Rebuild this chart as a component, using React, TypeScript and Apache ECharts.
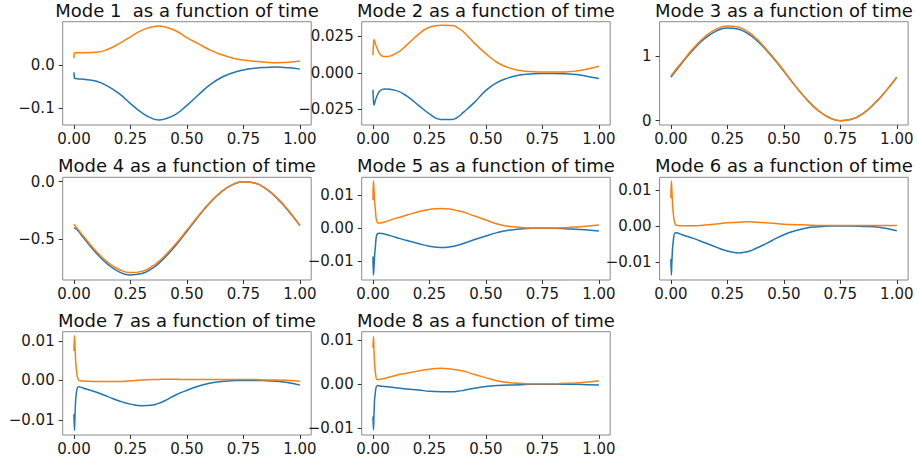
import React, { useEffect, useRef } from "react";
import * as echarts from "echarts";

const T = [0, 0.002, 0.005, 0.01, 0.02, 0.03, 0.05, 0.1, 0.15, 0.2, 0.25, 0.3, 0.35, 0.375, 0.4, 0.45, 0.5, 0.55, 0.6, 0.65, 0.7, 0.75, 0.8, 0.85, 0.9, 0.95, 1.0];

const MODE1_BLUE = [-0.016, -0.030, -0.031, -0.031, -0.032, -0.032, -0.033, -0.037, -0.049, -0.066, -0.089, -0.110, -0.1245, -0.127, -0.125, -0.114, -0.093, -0.069, -0.046, -0.029, -0.018, -0.011, -0.007, -0.005, -0.004, -0.006, -0.009];
const MODE1_ORANGE = [0.016, 0.029, 0.029, 0.029, 0.029, 0.029, 0.029, 0.030, 0.037, 0.050, 0.066, 0.081, 0.0895, 0.091, 0.0893, 0.080, 0.064, 0.050, 0.036, 0.025, 0.017, 0.012, 0.009, 0.007, 0.006, 0.007, 0.010];

const MODE2_BLUE = [-0.0116, -0.019, -0.022, -0.019, -0.015, -0.0125, -0.011, -0.012, -0.016, -0.022, -0.028, -0.0318, -0.0318, -0.0302, -0.027, -0.020, -0.012, -0.0065, -0.0035, -0.0015, -0.0008, -0.0005, -0.0005, -0.0007, -0.0012, -0.0025, -0.0039];
const MODE2_ORANGE = [0.012, 0.019, 0.0225, 0.020, 0.016, 0.013, 0.011, 0.013, 0.019, 0.026, 0.031, 0.0323, 0.0322, 0.0306, 0.028, 0.020, 0.013, 0.007, 0.0035, 0.0015, 0.0008, 0.0005, 0.0005, 0.0006, 0.0012, 0.0025, 0.0044];

const MODE3_BLUE = [0.67, 0.679, 0.693, 0.715, 0.76, 0.804, 0.893, 1.098, 1.266, 1.38, 1.429, 1.408, 1.319, 1.251, 1.17, 0.978, 0.76, 0.537, 0.332, 0.164, 0.05, 0.001, 0.022, 0.111, 0.26, 0.452, 0.67];
const MODE3_ORANGE = [0.69, 0.699, 0.712, 0.734, 0.78, 0.823, 0.908, 1.118, 1.293, 1.41, 1.46, 1.44, 1.347, 1.275, 1.19, 0.99, 0.77, 0.54, 0.333, 0.164, 0.05, 0.001, 0.022, 0.111, 0.26, 0.452, 0.67];

const MODE4_BLUE = [-0.40, -0.402, -0.405, -0.41, -0.43, -0.456, -0.506, -0.622, -0.717, -0.782, -0.809, -0.797, -0.747, -0.709, -0.663, -0.554, -0.43, -0.304, -0.188, -0.093, -0.028, 0.0, -0.012, -0.063, -0.147, -0.256, -0.38];
const MODE4_ORANGE = [-0.37, -0.375, -0.383, -0.395, -0.42, -0.444, -0.493, -0.607, -0.70, -0.762, -0.789, -0.778, -0.729, -0.691, -0.647, -0.54, -0.42, -0.297, -0.183, -0.09, -0.028, 0.0, -0.012, -0.061, -0.143, -0.25, -0.38];

const MODE5_BLUE = [-0.0085, -0.0141, -0.011, -0.006, -0.0016, -0.0015, -0.0017, -0.0027, -0.0037, -0.0046, -0.0054, -0.0058, -0.0055, -0.0051, -0.0046, -0.0034, -0.0023, -0.0013, -0.0006, -0.0002, 0, 0, 0, -0.0001, -0.0003, -0.0005, -0.0008];
const MODE5_ORANGE = [0.0085, 0.0143, 0.011, 0.006, 0.0017, 0.0016, 0.0019, 0.003, 0.004, 0.005, 0.0057, 0.006, 0.0057, 0.0053, 0.0049, 0.0037, 0.0025, 0.0013, 0.0006, 0.0003, 0.0001, 0.0001, 0.0001, 0.0002, 0.0004, 0.0007, 0.001];

const MODE6_BLUE = [-0.009, -0.0135, -0.009, -0.0045, -0.0018, -0.0019, -0.0024, -0.0034, -0.0046, -0.0058, -0.0069, -0.0074, -0.0069, -0.0062, -0.0055, -0.0039, -0.0024, -0.0013, -0.0005, -0.0002, 0, 0, 0, -0.0001, -0.0002, -0.0006, -0.0013];
const MODE6_ORANGE = [0.0077, 0.0125, 0.009, 0.004, 0.0004, 0.0002, 0.0001, 0.0001, 0.0003, 0.0006, 0.0009, 0.0011, 0.0012, 0.0011, 0.001, 0.0008, 0.0005, 0.0004, 0.0003, 0.0002, 0.0002, 0.0002, 0.0002, 0.0002, 0.0002, 0.0002, 0.0002];

const MODE7_BLUE = [-0.0085, -0.0126, -0.008, -0.0035, -0.0016, -0.0017, -0.0021, -0.003, -0.0041, -0.0052, -0.006, -0.0064, -0.0062, -0.0058, -0.0052, -0.0037, -0.0025, -0.0015, -0.0007, -0.0003, -0.0001, 0, 0, -0.0001, -0.0002, -0.0006, -0.0012];
const MODE7_ORANGE = [0.0074, 0.0113, 0.008, 0.003, 0.0001, -0.0001, -0.0002, -0.0003, -0.0003, -0.0003, -0.0001, 0.0001, 0.0002, 0.00025, 0.0003, 0.0003, 0.0002, 0.0002, 0.0002, 0.0002, 0.0002, 0.0002, 0.0002, 0.0001, 0.0001, 0, -0.0002];

const MODE8_BLUE = [-0.0073, -0.0103, -0.006, -0.002, -0.0003, -0.0004, -0.0005, -0.0008, -0.0011, -0.0013, -0.0016, -0.0017, -0.0017, -0.0016, -0.0014, -0.0009, -0.0005, -0.0003, -0.0002, -0.0001, 0, 0, 0, 0, 0, -0.0001, -0.0002];
const MODE8_ORANGE = [0.0082, 0.0108, 0.007, 0.003, 0.001, 0.0011, 0.0013, 0.002, 0.0025, 0.003, 0.0034, 0.0036, 0.0034, 0.0032, 0.003, 0.0022, 0.0015, 0.0008, 0.0004, 0.0002, 0.0001, 0.0001, 0.0001, 0.0002, 0.0003, 0.0005, 0.0008];

const BLUE_SERIES = [MODE1_BLUE, MODE2_BLUE, MODE3_BLUE, MODE4_BLUE, MODE5_BLUE, MODE6_BLUE, MODE7_BLUE, MODE8_BLUE];
const ORANGE_SERIES = [MODE1_ORANGE, MODE2_ORANGE, MODE3_ORANGE, MODE4_ORANGE, MODE5_ORANGE, MODE6_ORANGE, MODE7_ORANGE, MODE8_ORANGE];

const TITLES = [
  "Mode 1  as a function of time",
  "Mode 2 as a function of time",
  "Mode 3 as a function of time",
  "Mode 4 as a function of time",
  "Mode 5 as a function of time",
  "Mode 6 as a function of time",
  "Mode 7 as a function of time",
  "Mode 8 as a function of time",
];

const X_TICKS = [0, 0.25, 0.5, 0.75, 1];
const Y_TICKS = [
  [-0.1, 0],
  [-0.025, 0, 0.025],
  [0, 1],
  [-0.5, 0],
  [-0.01, 0, 0.01],
  [-0.01, 0, 0.01],
  [-0.01, 0, 0.01],
  [-0.01, 0, 0.01],
];
const Y_DECIMALS = [1, 3, 0, 1, 2, 2, 2, 2];
const Y_LIMITS = [
  [-0.1386, 0.101],
  [-0.0356, 0.0348],
  [-0.066, 1.525],
  [-0.853, 0.038],
  [-0.0156, 0.0154],
  [-0.0149, 0.0135],
  [-0.0138, 0.0123],
  [-0.0115, 0.0119],
];

const COL_LEFT = [62.7, 361.7, 659.6];
const COL_WIDTH = 248.5;
const ROW_TOP = [21.7, 177.3, 331.7];
const ROW_HEIGHT = [103.3, 102.7, 103.3];

const FONT = "DejaVu Sans";
const BLUE = "#1f77b4";
const ORANGE = "#ff7f0e";

function fmt(v: number, d: number) {
  const s = Math.abs(v) < 1e-12 ? (0).toFixed(d) : v.toFixed(d);
  return s.replace("-", "\u2212");
}

export default function App() {
  const ref = useRef<HTMLDivElement>(null);
  useEffect(() => {
    if (!ref.current) return;
    const chart = echarts.init(ref.current, null, { renderer: "svg" });
    const grids: any[] = [];
    const xAxes: any[] = [];
    const yAxes: any[] = [];
    const titles: any[] = [];
    const series: any[] = [];
    for (let i = 0; i < 8; i++) {
      const r = Math.floor(i / 3);
      const c = i % 3;
      const left = COL_LEFT[c];
      const top = ROW_TOP[r];
      grids.push({
        left,
        top,
        width: COL_WIDTH,
        height: ROW_HEIGHT[r],
        show: true,
        borderColor: "#8a8a8a",
        borderWidth: 1,
        backgroundColor: "transparent",
        containLabel: false,
        outerBoundsMode: "none",
      });
      xAxes.push({
        type: "value",
        gridIndex: i,
        position: "bottom",
        min: -0.05,
        max: 1.05,
        axisLine: { show: false, onZero: false },
        splitLine: { show: false },
        axisTick: {
          show: true,
          length: 4,
          inside: false,
          customValues: X_TICKS,
          lineStyle: { color: "#333", width: 1 },
        },
        axisLabel: {
          show: true,
          customValues: X_TICKS,
          margin: 6,
          fontFamily: FONT,
          fontSize: 15,
          color: "#1a1a1a",
          formatter: (v: number) => fmt(v, 2),
        },
      });
      yAxes.push({
        type: "value",
        gridIndex: i,
        position: "left",
        min: Y_LIMITS[i][0],
        max: Y_LIMITS[i][1],
        axisLine: { show: false, onZero: false },
        splitLine: { show: false },
        axisTick: {
          show: true,
          length: 4,
          inside: false,
          customValues: Y_TICKS[i],
          lineStyle: { color: "#333", width: 1 },
        },
        axisLabel: {
          show: true,
          customValues: Y_TICKS[i],
          margin: 8,
          fontFamily: FONT,
          fontSize: 15,
          color: "#1a1a1a",
          formatter: (v: number) => fmt(v, Y_DECIMALS[i]),
        },
      });
      titles.push({
        text: TITLES[i],
        left: left + COL_WIDTH / 2,
        top: top - 20.5,
        textAlign: "center",
        padding: 0,
        textStyle: {
          fontFamily: FONT,
          fontSize: 18,
          fontWeight: "normal",
          color: "#111",
        },
      });
      series.push({
        type: "line",
        xAxisIndex: i,
        yAxisIndex: i,
        data: T.map((t, j) => [t, BLUE_SERIES[i][j]]),
        showSymbol: false,
        symbol: "none",
        smooth: 0.5,
        lineStyle: { color: BLUE, width: 1.5 },
        itemStyle: { color: BLUE },
        silent: true,
      });
      series.push({
        type: "line",
        xAxisIndex: i,
        yAxisIndex: i,
        data: T.map((t, j) => [t, ORANGE_SERIES[i][j]]),
        showSymbol: false,
        symbol: "none",
        smooth: 0.5,
        lineStyle: { color: ORANGE, width: 1.5 },
        itemStyle: { color: ORANGE },
        silent: true,
      });
    }
    chart.setOption({
      animation: false,
      backgroundColor: "#ffffff",
      title: titles,
      grid: grids,
      xAxis: xAxes,
      yAxis: yAxes,
      series,
    });
    return () => chart.dispose();
  }, []);
  return (
    <div
      ref={ref}
      style={{ position: "fixed", left: 0, top: 0, width: 917, height: 459, background: "#fff" }}
    />
  );
}
